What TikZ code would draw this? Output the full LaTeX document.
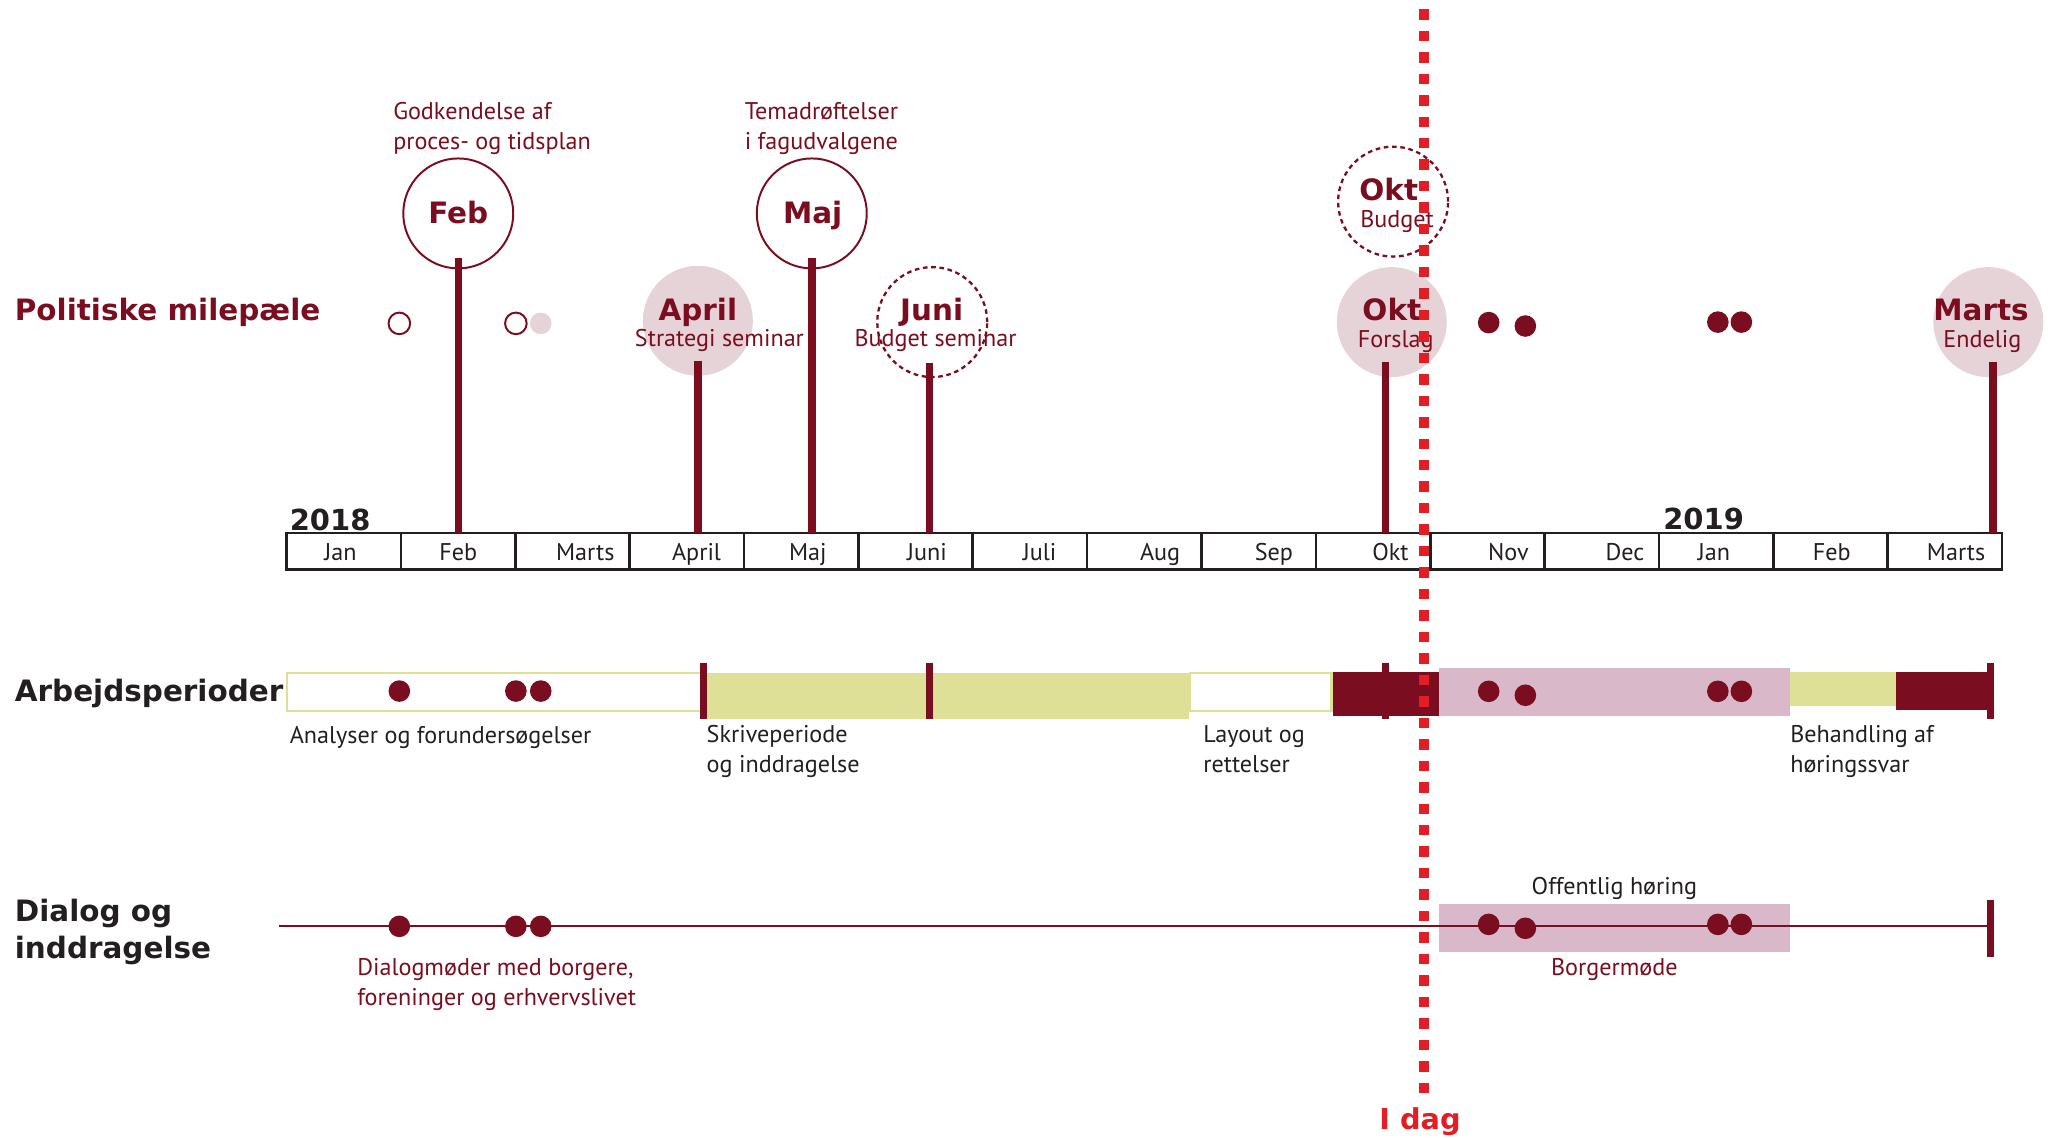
\documentclass[tikz,border=0pt]{standalone}
\usepackage{fontspec}
\setmainfont{PT Sans}
\newfontfamily\headfont{DejaVu Sans}
\usepackage{xcolor}
\usetikzlibrary{positioning, calc}
\definecolor{milered}{RGB}{122, 14, 32}
\definecolor{milepink}{RGB}{230, 211, 215}
\definecolor{barpink}{RGB}{217, 184, 202}
\definecolor{bargreen}{RGB}{223, 224, 151}
\definecolor{todayred}{RGB}{226, 30, 36}
\definecolor{inkgray}{RGB}{35, 31, 32}

\begin{document}
\begin{tikzpicture}[
        x=0.02cm, y=-0.02cm,
        body/.style={font=\fontsize{10.5}{13}\selectfont, inner sep=0pt, align=left},
        redtxt/.style={body, text=milered},
        graytxt/.style={body, text=inkgray},
        rowhead/.style={font=\headfont\bfseries\fontsize{12.8}{15.9}\selectfont, inner sep=0pt, anchor=base west, align=left},
        mbold/.style={font=\headfont\bfseries\fontsize{12.8}{15}\selectfont, text=milered, inner sep=0pt, anchor=base},
        msub/.style={redtxt, anchor=base},
        ring/.style={circle, draw=milered, line width=0.03cm, fill=white, minimum size=1.68cm, inner sep=0pt},
        ringfill/.style={circle, fill=milepink, minimum size=1.68cm, inner sep=0pt},
        ringdash/.style={circle, draw=milered, line width=0.035cm, dash pattern=on 2pt off 1.6pt, minimum size=1.68cm, inner sep=0pt},
        cell/.style={draw=inkgray, line width=0.04cm, minimum width=1.7466cm, minimum height=0.56cm, inner sep=0pt, outer sep=0pt},
        stem/.style={draw=milered, line width=0.115cm},
        tick/.style={draw=milered, line width=0.11cm},
        dot/.style={fill=milered},
        year/.style={font=\headfont\bfseries\fontsize{12.6}{14}\selectfont, text=inkgray, inner sep=0pt, anchor=base west},
        today/.style={draw=todayred, line width=0.15cm, dash pattern=on 0.16cm off 0.168cm}
    ]
        \useasboundingbox (0,0) rectangle (1568,869);

        % Row headings
        \node[rowhead, text=milered] (hpol) at (11,245) {Politiske milepæle};
        \node[rowhead, text=inkgray] (harb) at (11,536) {Arbejdsperioder};
        \node[rowhead, text=inkgray] (hdia) at (11,732) {Dialog og\\inddragelse};

        % Month axis
        \foreach \i in {1,...,15}
            \node[cell] (m\i) at ({219+87.33*(\i-0.5)}, 421) {};
        \foreach \m/\lx [count=\i] in {Jan/260, Feb/350, Marts/447, April/532, Maj/617, Juni/708, Juli/794, Aug/886,
                Sep/973, Okt/1062, Nov/1152, Dec/1241, Jan/1309, Feb/1399, Marts/1494}
            \node[graytxt, anchor=base] (ml\i) at (\lx, 427.7) {\m};
        \node[year] (y2018) at (221,405) {2018};
        \node[year] (y2019) at (1270,404.6) {2019};

        % Milestones
        \node[ring] (feb) at (350,163) {};
        \node[ring] (maj) at (620,163) {};
        \node[ringfill] (april) at (533,245) {};
        \node[ringdash] (juni) at (712,246) {};
        \node[ringdash] (oktb) at (1064,154) {};
        \node[ringfill] (oktf) at (1063,246) {};
        \node[ringfill] (marts) at (1518.6,246) {};

        \node[mbold] (febt) at (350,170.5) {Feb};
        \node[mbold] (majt) at (620.7,170.5) {Maj};
        \node[mbold] (aprilt) at (533,245) {April};
        \node[mbold] (junit) at (711.6,245) {Juni};
        \node[mbold] (oktbt) at (1060.7,153.4) {Okt};
        \node[mbold] (oktft) at (1063,245) {Okt};
        \node[mbold] (martst) at (1513,245) {Marts};

        \node[msub] (aprils) at (549.5,265) {Strategi seminar};
        \node[msub] (junis) at (714.5,265) {Budget seminar};
        \node[msub] (oktbs) at (1067,173.8) {Budget};
        \node[msub] (oktfs) at (1066,265.6) {Forslag};
        \node[msub] (martss) at (1514,265.6) {Endelig};

        \node[redtxt, anchor=base west] (febn) at (300,114) {Godkendelse af\\proces- og tidsplan};
        \node[redtxt, anchor=base west] (majn) at (568.5,114) {Temadrøftelser\\i fagudvalgene};

        % Stems
        \draw[stem] ([yshift=0.18cm]feb.south) -- (feb.south |- m2.north);
        \draw[stem] ([yshift=0.18cm]maj.south) -- (maj.south |- m5.north);
        \draw[stem] ([yshift=0.24cm]april.south) -- (april.south |- m4.north);
        \draw[stem] ([xshift=-0.04cm, yshift=0.24cm]juni.south) -- ([xshift=-0.04cm]juni.south |- m6.north);
        \draw[stem] ([xshift=-0.1cm, yshift=0.24cm]oktf.south) -- ([xshift=-0.1cm]oktf.south |- m10.north);
        \draw[stem] ([xshift=0.07cm, yshift=0.24cm]marts.south) -- ([xshift=0.07cm]marts.south |- m15.north);

        % Small markers
        \draw[milered, line width=0.03cm, fill=white] (305,247) circle (0.165cm) (394,247) circle (0.165cm);
        \fill[milepink] (413,247) circle (0.165cm);
        \foreach \px/\py in {1137/246.4, 1165/249, 1312/246, 1330/246}
            \fill[dot] (\px,\py) circle (0.165cm);

        % Work periods
        \draw[bargreen, line width=0.035cm, fill=white] (219,514) rectangle (536,543);
        \fill[bargreen] (537,514) rectangle (908,549);
        \draw[bargreen, line width=0.035cm, fill=white] (909,514) rectangle (1017,543);
        \fill[milered] (1018,513) rectangle (1099,547);
        \fill[barpink] (1099,510) rectangle (1367,547);
        \fill[bargreen] (1367,513) rectangle (1448,539);
        \fill[milered] (1448,513) rectangle (1518,542);
        \foreach \tx in {537, 710, 1058, 1520}
            \draw[tick] (\tx,506) -- (\tx,549);
        \foreach \px/\py in {305/527.8, 394/527.8, 413/527.8, 1137/528, 1165/531, 1312/528, 1330/528}
            \fill[dot] (\px,\py) circle (0.165cm);

        \node[graytxt, anchor=base west] (analyse) at (221,567.7) {Analyser og forundersøgelser};
        \node[graytxt, anchor=base west] (skrive) at (539.4,590) {Skriveperiode\\og inddragelse};
        \node[graytxt, anchor=base west] (layout) at (918.7,590) {Layout og\\rettelser};
        \node[graytxt, anchor=base west] (behand) at (1367,590) {Behandling af\\høringssvar};

        % Dialog
        \fill[barpink] (1099,690.5) rectangle (1367,727);
        \coordinate (dstart) at (213,707);
        \coordinate (dend) at (1520,707);
        \draw[milered, line width=0.036cm] (dstart) -- (dend);
        \draw[tick] (1520,687) -- (1520,731);
        \foreach \px/\py in {305/707.5, 394/707.5, 413/707.5, 1137/706, 1165/709, 1312/706, 1330/706}
            \fill[dot] (\px,\py) circle (0.165cm);
        \node[graytxt, anchor=base] (hoering) at (1233,682.8) {Offentlig høring};
        \node[redtxt, anchor=base] (borger) at (1233,744.7) {Borgermøde};
        \node[redtxt, anchor=base west] (dialogm) at (272.5,767.6) {Dialogmøder med borgere,\\foreninger og erhvervslivet};

        % Today
        \coordinate (todaytop) at (1087.6,7);
        \node[font=\headfont\bfseries\fontsize{12.5}{15}\selectfont, text=todayred, inner sep=0pt, anchor=base] (idag) at (1084.5,863) {I dag};
        \draw[today] (todaytop) -- (todaytop |- 0,835);
    \end{tikzpicture}
\end{document}
